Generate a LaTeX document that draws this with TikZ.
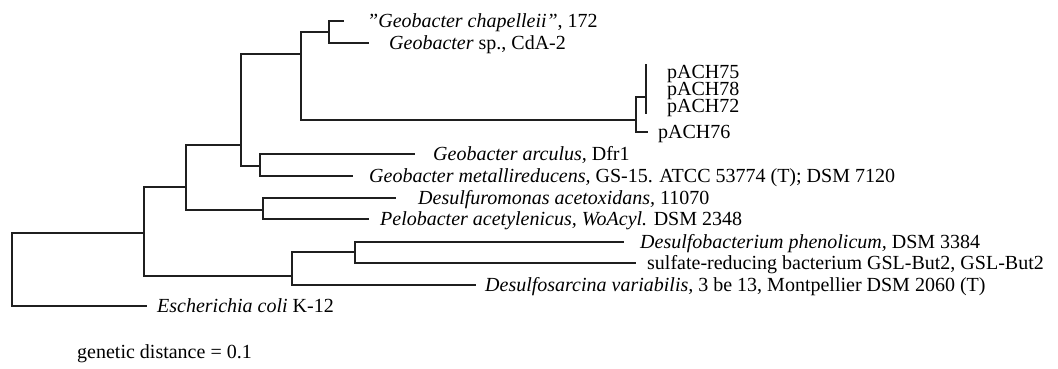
\documentclass[tikz,border=0pt]{standalone}
\usepackage{fontspec}
\setmainfont{Liberation Serif}
\begin{document}
\begin{tikzpicture}[x=1pt,y=-1pt,
  branch/.style={line width=1.8pt, draw=black!88, line cap=rect},
  lbl/.style={anchor=base west, inner sep=0pt, font=\fontsize{20}{24}\selectfont}]
\useasboundingbox (0,0) rectangle (1058,369);
% internal nodes (x, y where attached to parent)
\coordinate (R) at (12,233);
\coordinate (A) at (144,233);
\coordinate (B) at (186,187);
\coordinate (C) at (241,145);
\coordinate (D) at (301,54);
\coordinate (E) at (329,32);
\coordinate (F) at (636,120);
\coordinate (G) at (646,97);
\coordinate (G1) at (646,65);
\coordinate (G2) at (646,113);
\coordinate (H) at (260,166);
\coordinate (I) at (263,210);
\coordinate (J) at (292,276);
\coordinate (K) at (355,252);
% leaves
\coordinate (lchap) at (343,21);
\coordinate (lcda) at (368,43);
\coordinate (lp76) at (647,132);
\coordinate (larc) at (414,154);
\coordinate (lmet) at (352,176);
\coordinate (ldesm) at (395,198);
\coordinate (lpel) at (368,219);
\coordinate (lphe) at (623,242);
\coordinate (lsul) at (635,263);
\coordinate (ldsar) at (475,285);
\coordinate (leco) at (146,306);
% branches
\draw[branch] (R) |- (A);
\draw[branch] (R) |- (leco);
\draw[branch] (A) |- (B);
\draw[branch] (A) |- (J);
\draw[branch] (B) |- (C);
\draw[branch] (B) |- (I);
\draw[branch] (C) |- (D);
\draw[branch] (C) |- (H);
\draw[branch] (D) |- (E);
\draw[branch] (D) |- (F);
\draw[branch] (E) |- (lchap);
\draw[branch] (E) |- (lcda);
\draw[branch] (F) |- (G);
\draw[branch] (F) |- (lp76);
\draw[branch] (G1) -- (G2);
\draw[branch] (H) |- (larc);
\draw[branch] (H) |- (lmet);
\draw[branch] (I) |- (ldesm);
\draw[branch] (I) |- (lpel);
\draw[branch] (J) |- (K);
\draw[branch] (J) |- (ldsar);
\draw[branch] (K) |- (lphe);
\draw[branch] (K) |- (lsul);
% labels
\node[lbl] (tchap) at (367,27.5) {\textit{"Geobacter chapelleii"}, 172};
\node[lbl] (tcda) at (389,49.5) {\textit{Geobacter} sp., CdA-2};
\node[lbl] (t75) at (667,78.5) {pACH75};
\node[lbl] (t78) at (667,95.5) {pACH78};
\node[lbl] (t72) at (667,112.5) {pACH72};
\node[lbl] (t76) at (658,138.5) {pACH76};
\node[lbl] (tarc) at (433,160.5) {\textit{Geobacter arculus,} Dfr1};
\node[lbl] (tmet) at (369,182.5) {\textit{Geobacter metallireducens,} GS-15. ATCC 53774 (T); DSM 7120};
\node[lbl] (tdesm) at (418,204.5) {\textit{Desulfuromonas acetoxidans,} 11070};
\node[lbl] (tpel) at (380,225.5) {\textit{Pelobacter acetylenicus, WoAcyl.} DSM 2348};
\node[lbl] (tphe) at (640,248.5) {\textit{Desulfobacterium phenolicum,} DSM 3384};
\node[lbl] (tsul) at (647,269.5) {sulfate-reducing bacterium GSL-But2, GSL-But2};
\node[lbl] (tdsar) at (485,291.5) {\textit{Desulfosarcina variabilis,} 3 be 13, Montpellier DSM 2060 (T)};
\node[lbl] (teco) at (157,312.5) {\textit{Escherichia coli} K-12};
\node[lbl] (tgen) at (77,358.5) {genetic distance = 0.1};
\end{tikzpicture}
\end{document}
